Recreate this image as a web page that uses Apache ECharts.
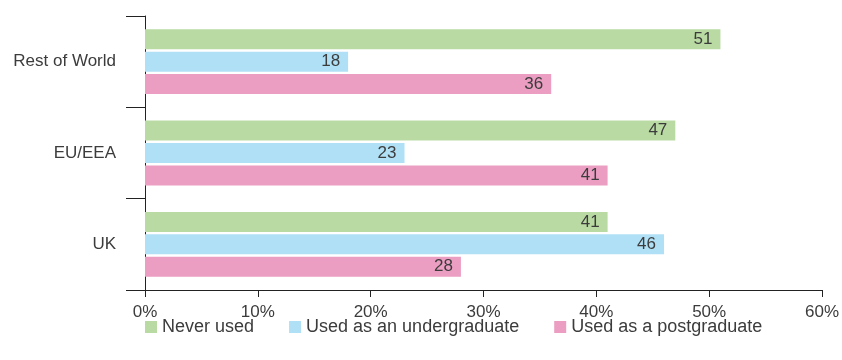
<!DOCTYPE html>
<html><head><meta charset="utf-8">
<script src="https://cdn.jsdelivr.net/npm/echarts@6/dist/echarts.min.js"></script>
<style>html,body{margin:0;padding:0;background:#fff}#c{width:842px;height:360px}</style>
</head><body><div id="c"></div>
<script>
const categories = ['Rest of World', 'EU/EEA', 'UK'];
const seriesNames = ['Never used', 'Used as an undergraduate', 'Used as a postgraduate'];
const neverUsed = [51, 47, 41];
const undergrad = [18, 23, 46];
const postgrad = [36, 41, 28];
const xTicks = [0, 10, 20, 30, 40, 50, 60];

const colors = ['#b9dba3', '#b0e0f6', '#eb9ec2'];
const font = 'Liberation Sans, Arial, sans-serif';
const txt = '#3c3c3c';
const values = [neverUsed, undergrad, postgrad];

const chart = echarts.init(document.getElementById('c'), null, {renderer: 'canvas'});
chart.setOption({
  animation: false,
  textStyle: {fontFamily: font},
  grid: {left: 145, right: 19, top: 16, bottom: 70, containLabel: false},
  legend: {
    top: 313, left: 140,
    itemWidth: 12, itemHeight: 12, itemGap: 35,
    icon: 'rect',
    textStyle: {fontSize: 18, color: txt, fontFamily: font},
    data: seriesNames
  },
  xAxis: {
    type: 'value', min: xTicks[0], max: xTicks[xTicks.length - 1], interval: 10,
    axisLine: {show: true, lineStyle: {color: '#222', width: 1}},
    axisTick: {show: true, length: 7, lineStyle: {color: '#222'}},
    splitLine: {show: false},
    axisLabel: {formatter: '{value}%', fontSize: 17, color: txt, margin: 14, fontFamily: font}
  },
  yAxis: {
    type: 'category', data: categories, inverse: true,
    axisLine: {show: true, lineStyle: {color: '#222', width: 1}},
    axisTick: {show: true, length: 19, lineStyle: {color: '#222'}},
    axisLabel: {fontSize: 17, color: txt, margin: 29, fontFamily: font}
  },
  series: seriesNames.map((n, i) => ({
    name: n, type: 'bar', data: values[i],
    barWidth: 20, barGap: '12%', barCategoryGap: '28%',
    itemStyle: {color: colors[i]},
    label: {show: true, position: 'insideRight', distance: 8, color: txt, fontSize: 17, fontFamily: font}
  }))
});
</script></body></html>
